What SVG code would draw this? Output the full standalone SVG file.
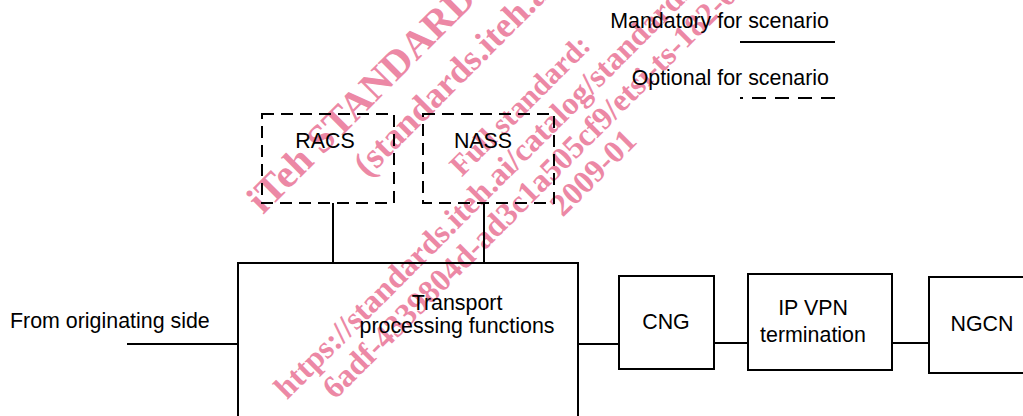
<svg xmlns="http://www.w3.org/2000/svg" width="1023" height="416" viewBox="0 0 1023 416">
  <style>
    .box { fill: none; stroke: #000; stroke-width: 2; }
    .opt { fill: none; stroke: #000; stroke-width: 2; stroke-dasharray: 12 7; }
    .wire { fill: none; stroke: #000; stroke-width: 2; }
    .lbl { font-family: "Liberation Sans", Arial, sans-serif; font-size: 21.4px; fill: #000; }
    .mid { text-anchor: middle; }
    .end { text-anchor: end; }
    .wm { font-family: "Liberation Serif", "Times New Roman", serif; font-weight: bold; fill: #ec88a5; }
  </style>
  <rect width="1023" height="416" fill="#fff"/>

  <!-- watermark stamp, rotated 45 degrees -->
  <g id="watermark" transform="rotate(-45)">
    <text class="wm" x="34" y="338" font-size="40">iTeh STANDARD PREVIEW</text>
    <text class="wm" x="134" y="386" font-size="36">(standards.iteh.ai)</text>
    <text class="wm" x="201" y="452" font-size="30">Full standard:</text>
    <text class="wm" x="-80" y="486" font-size="32">https://standards.iteh.ai/catalog/standards/sist/</text>
    <text class="wm" x="-46" y="520" font-size="32">6adf-4339804d-ad3c1a505cf9/etsi-ts-182-025</text>
    <text class="wm" x="244" y="552" font-size="32">2009-01</text>
  </g>

  <!-- legend -->
  <g id="legend">
    <text class="lbl end" x="829" y="28">Mandatory for scenario</text>
    <line class="wire" x1="740" y1="42" x2="835" y2="42"/>
    <text class="lbl end" x="829" y="85">Optional for scenario</text>
    <line class="wire" x1="835" y1="98" x2="740" y2="98" stroke-dasharray="14 9"/>
  </g>

  <!-- connectors -->
  <g id="connectors">
    <line class="wire" x1="333" y1="203" x2="333" y2="263"/>
    <line class="wire" x1="484" y1="203" x2="484" y2="263"/>
    <line class="wire" x1="127" y1="344" x2="238" y2="344"/>
    <line class="wire" x1="578" y1="344" x2="619" y2="344"/>
    <line class="wire" x1="714" y1="343" x2="748" y2="343"/>
    <line class="wire" x1="892" y1="343" x2="929" y2="343"/>
  </g>

  <text class="lbl" x="10" y="328">From originating side</text>

  <g id="racs">
    <rect class="opt" x="262" y="114" width="132" height="89"/>
    <text class="lbl mid" x="325" y="148">RACS</text>
  </g>

  <g id="nass">
    <rect class="opt" x="423" y="114" width="131" height="89"/>
    <text class="lbl mid" x="483" y="148">NASS</text>
  </g>

  <g id="transport">
    <rect class="box" x="238" y="263" width="340" height="170"/>
    <text class="lbl mid" x="457" y="310">Transport</text>
    <text class="lbl mid" x="457" y="333">processing functions</text>
  </g>

  <g id="cng">
    <rect class="box" x="619" y="276" width="95" height="93"/>
    <text class="lbl mid" x="666" y="329">CNG</text>
  </g>

  <g id="ipvpn">
    <rect class="box" x="748" y="274" width="144" height="96"/>
    <text class="lbl mid" x="813" y="315">IP VPN</text>
    <text class="lbl mid" x="813" y="342">termination</text>
  </g>

  <g id="ngcn">
    <rect class="box" x="929" y="277" width="110" height="96"/>
    <text class="lbl mid" x="982" y="331">NGCN</text>
  </g>
</svg>
